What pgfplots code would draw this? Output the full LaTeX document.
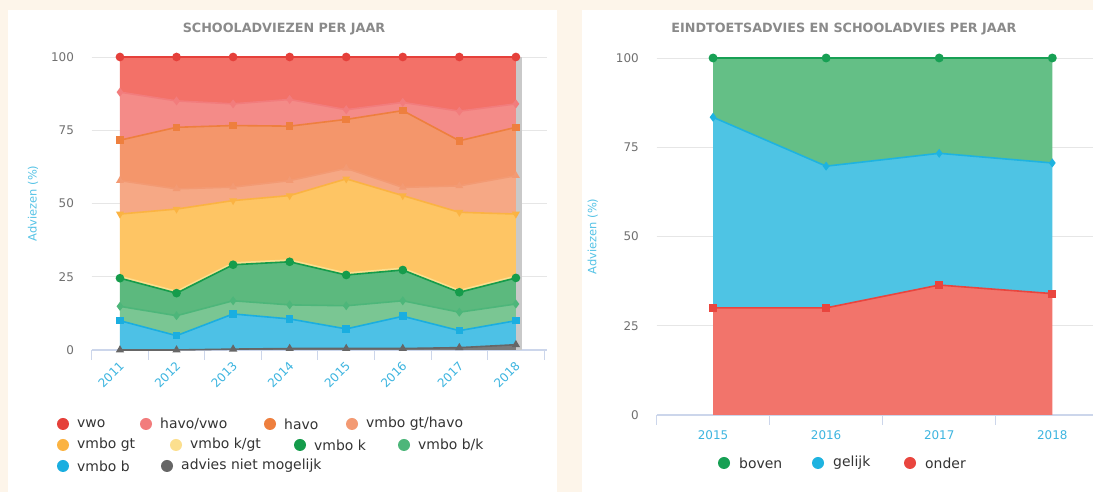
\documentclass[border=0pt]{standalone}
\usepackage{pgfplots}
\pgfplotsset{compat=1.18}
\usepackage{pgfplotstable}
\usepackage{fontspec}
\setmainfont{DejaVu Sans}
\newfontfamily\tickfont{DejaVu Sans}

\definecolor{bgcream}{HTML}{FDF5EA}
\definecolor{gridgray}{HTML}{E6E6E6}
\definecolor{axisgray}{HTML}{CCD6EB}
\definecolor{tickgray}{HTML}{707070}
\definecolor{titlegray}{HTML}{8A8A8A}
\definecolor{xcyan}{HTML}{3DB5E0}
\definecolor{ycyan}{HTML}{55C3E6}
\definecolor{legtext}{HTML}{333333}
% series: fill / line
\definecolor{fVwo}{HTML}{F37168}   \definecolor{lVwo}{HTML}{E5403A}
\definecolor{fHavovwo}{HTML}{F48B88} \definecolor{lHavovwo}{HTML}{F27C7C}
\definecolor{fHavo}{HTML}{F4966B}  \definecolor{lHavo}{HTML}{EE7F3E}
\definecolor{fGthavo}{HTML}{F6A885} \definecolor{lGthavo}{HTML}{F39A73}
\definecolor{fGt}{HTML}{FEC564}    \definecolor{lGt}{HTML}{FBB342}
\definecolor{fKgt}{HTML}{FDD98A}   \definecolor{lKgt}{HTML}{FCDF8E}
\definecolor{fK}{HTML}{5CB97E}     \definecolor{lK}{HTML}{159C4B}
\definecolor{fBk}{HTML}{7AC693}    \definecolor{lBk}{HTML}{4DB67A}
\definecolor{fB}{HTML}{4DC1E6}     \definecolor{lB}{HTML}{1AAEE0}
\definecolor{fAdv}{HTML}{7A7A7A}   \definecolor{lAdv}{HTML}{666666}
\definecolor{fBoven}{HTML}{64BF86} \definecolor{lBoven}{HTML}{17A054}
\definecolor{fGelijk}{HTML}{4EC4E4} \definecolor{lGelijk}{HTML}{1EB3E0}
\definecolor{fOnder}{HTML}{F2746B} \definecolor{lOnder}{HTML}{E9453E}
\definecolor{stripgray}{HTML}{C9C9C9}

% schooladviezen per jaar (%), x = 0..7 for 2011..2018
\pgfplotstableread{
x adv b bk k kgt gt gthavo havo havovwo vwo
0 0.0 10.0 4.9 9.6 0.6 21.3 11.4 13.8 16.4 12.0
1 0.0 4.9 6.8 7.7 0.6 28.1 6.9 21.0 9.0 15.0
2 0.3 12.0 4.5 12.3 0.6 21.3 4.6 21.0 7.4 16.0
3 0.5 10.1 4.8 14.7 0.6 22.0 5.1 18.6 9.1 14.5
4 0.5 6.7 7.9 10.5 0.6 32.2 3.6 16.7 3.3 18.0
5 0.5 11.0 5.3 10.5 0.6 24.8 2.8 26.2 2.8 15.5
6 0.8 5.8 6.3 6.8 0.6 26.7 9.0 15.4 10.1 18.5
7 1.8 8.2 5.7 8.9 0.6 21.2 13.1 16.5 8.0 16.0
}\links

% eindtoetsadvies vs schooladvies (%), x = 0..3 for 2015..2018
\pgfplotstableread{
x onder gelijk boven
0 30.0 53.4 16.6
1 30.0 39.7 30.3
2 36.4 36.9 26.7
3 34.0 36.6 29.4
}\rechts

\pgfplotsset{
  leftgeom/.style={
    at={(91.7bp,142bp)}, anchor=south west,
    scale only axis, width=455.3bp, height=293bp,
    xmin=-0.5, xmax=7.55, ymin=0, ymax=100,
  },
  rightgeom/.style={
    at={(656.5bp,77bp)}, anchor=south west,
    scale only axis, width=436.5bp, height=357bp,
    xmin=-0.5, xmax=3.36, ymin=0, ymax=100,
  },
  baseaxis/.style={
    ytick={0,25,50,75,100},
    ymajorgrids, grid style={gridgray, line width=0.8bp},
    axis x line*=bottom, axis y line*=left,
    y axis line style={draw=none},
    x axis line style={axisgray, line width=1.2bp, -},
    major tick style={draw=none},
    minor tick style={draw=axisgray, line width=1bp},
    minor tick length=10bp, tick align=outside,
    yticklabel style={font=\tickfont\fontsize{12}{14}\selectfont, text=tickgray,
      xshift=-10bp, /pgf/number format/assume math mode=true},
    ylabel={Adviezen (\%)},
  },
}

\begin{document}
\begin{tikzpicture}[x=1bp,y=1bp]
\fill[bgcream] (0,0) rectangle (1093,492);
\useasboundingbox (0,0) rectangle (1093,492);
\fill[white] (8,0) rectangle (557,482);
\fill[white] (582,0) rectangle (1093,482);

% ---------------- left chart ----------------
\begin{axis}[leftgeom, baseaxis,
  xtick={0,...,7}, xticklabels={2011,2012,2013,2014,2015,2016,2017,2018},
  xticklabel style={font=\tickfont\fontsize{12}{14}\selectfont, text=xcyan,
    rotate=45, anchor=east, yshift=-8bp, xshift=-2bp},
  minor xtick={-0.5,0.5,...,7.5},
  every axis y label/.style={at={(axis description cs:-0.129,0.5)}, rotate=90, anchor=center,
    font=\fontsize{11.5}{13}\selectfont, text=ycyan},
]
  \addplot[fill=stripgray, draw=none] coordinates {(7,100) (7.11,100)} \closedcycle;
\end{axis}

\begin{axis}[leftgeom, hide axis, stack plots=y, clip=false]
  \addplot[fill=fAdv, draw=none] table[x=x, y=adv] {\links} \closedcycle;
  \addplot[fill=fB, draw=none] table[x=x, y=b] {\links} \closedcycle;
  \addplot[fill=fBk, draw=none] table[x=x, y=bk] {\links} \closedcycle;
  \addplot[fill=fK, draw=none] table[x=x, y=k] {\links} \closedcycle;
  \addplot[fill=fKgt, draw=none] table[x=x, y=kgt] {\links} \closedcycle;
  \addplot[fill=fGt, draw=none] table[x=x, y=gt] {\links} \closedcycle;
  \addplot[fill=fGthavo, draw=none] table[x=x, y=gthavo] {\links} \closedcycle;
  \addplot[fill=fHavo, draw=none] table[x=x, y=havo] {\links} \closedcycle;
  \addplot[fill=fHavovwo, draw=none] table[x=x, y=havovwo] {\links} \closedcycle;
  \addplot[fill=fVwo, draw=none] table[x=x, y=vwo] {\links} \closedcycle;
\end{axis}

\begin{axis}[leftgeom, hide axis, stack plots=y, clip=false,
  every axis plot/.append style={line width=1.6bp, mark options={solid}}]
  \addplot[lAdv, mark=triangle*, mark size=3.2bp] table[x=x, y=adv] {\links};
  \addplot[lB, mark=square*, mark size=3bp] table[x=x, y=b] {\links};
  \addplot[lBk, mark=diamond*, mark size=3.2bp] table[x=x, y=bk] {\links};
  \addplot[lK, mark=*, mark size=3.5bp] table[x=x, y=k] {\links};
  \addplot[lKgt, mark=none] table[x=x, y=kgt] {\links};
  \addplot[lGt, mark=triangle*, mark size=3bp, mark options={rotate=180}] table[x=x, y=gt] {\links};
  \addplot[lGthavo, mark=triangle*, mark size=3bp] table[x=x, y=gthavo] {\links};
  \addplot[lHavo, mark=square*, mark size=3bp] table[x=x, y=havo] {\links};
  \addplot[lHavovwo, mark=diamond*, mark size=3.2bp] table[x=x, y=havovwo] {\links};
  \addplot[lVwo, mark=*, mark size=3.5bp] table[x=x, y=vwo] {\links};
\end{axis}

% ---------------- right chart ----------------
\begin{axis}[rightgeom, baseaxis,
  xtick={0,...,3}, xticklabels={2015,2016,2017,2018},
  xticklabel style={font=\tickfont\fontsize{12}{14}\selectfont, text=xcyan, yshift=-8bp},
  minor xtick={-0.5,0.5,1.5,2.5},
  every axis y label/.style={at={(axis description cs:-0.146,0.5)}, rotate=90, anchor=center,
    font=\fontsize{11.5}{13}\selectfont, text=ycyan},
]
\end{axis}

\begin{axis}[rightgeom, hide axis, stack plots=y, clip=false]
  \addplot[fill=fOnder, draw=none] table[x=x, y=onder] {\rechts} \closedcycle;
  \addplot[fill=fGelijk, draw=none] table[x=x, y=gelijk] {\rechts} \closedcycle;
  \addplot[fill=fBoven, draw=none] table[x=x, y=boven] {\rechts} \closedcycle;
\end{axis}

\begin{axis}[rightgeom, hide axis, stack plots=y, clip=false,
  every axis plot/.append style={line width=1.6bp, mark options={solid}}]
  \addplot[lOnder, mark=square*, mark size=3.2bp] table[x=x, y=onder] {\rechts};
  \addplot[lGelijk, mark=diamond*, mark size=3.2bp] table[x=x, y=gelijk] {\rechts};
  \addplot[lBoven, mark=*, mark size=3.6bp] table[x=x, y=boven] {\rechts};
\end{axis}

% ---------------- titles ----------------
\node[font=\bfseries\fontsize{12.8}{14}\selectfont, text=titlegray] at (284,463) {SCHOOLADVIEZEN PER JAAR};
\node[font=\bfseries\fontsize{12.8}{14}\selectfont, text=titlegray] at (844,463) {EINDTOETSADVIES EN SCHOOLADVIES PER JAAR};

% ---------------- legends ----------------
\tikzset{leg/.style={anchor=west, inner sep=0pt, text=legtext, font=\fontsize{14}{16}\selectfont}}
\fill[lVwo] (63,68) circle (6);      \node[leg] at (77,68) {vwo};
\fill[lHavovwo] (146,68) circle (6); \node[leg] at (160,68) {havo/vwo};
\fill[lHavo] (270,68) circle (6);    \node[leg] at (284,68) {havo};
\fill[lGthavo] (352,68) circle (6);  \node[leg] at (366,68) {vmbo gt/havo};
\fill[lGt] (63,47) circle (6);       \node[leg] at (77,47) {vmbo gt};
\fill[lKgt] (176,47) circle (6);     \node[leg] at (190,47) {vmbo k/gt};
\fill[lK] (300,47) circle (6);       \node[leg] at (314,47) {vmbo k};
\fill[lBk] (404,47) circle (6);      \node[leg] at (418,47) {vmbo b/k};
\fill[lB] (63,26) circle (6);        \node[leg] at (77,26) {vmbo b};
\fill[lAdv] (167,26) circle (6);     \node[leg] at (181,26) {advies niet mogelijk};

\fill[lBoven] (724,29) circle (6);   \node[leg] at (739,29) {boven};
\fill[lGelijk] (818,29) circle (6);  \node[leg] at (833,29) {gelijk};
\fill[lOnder] (910,29) circle (6);   \node[leg] at (925,29) {onder};
\end{tikzpicture}
\end{document}
